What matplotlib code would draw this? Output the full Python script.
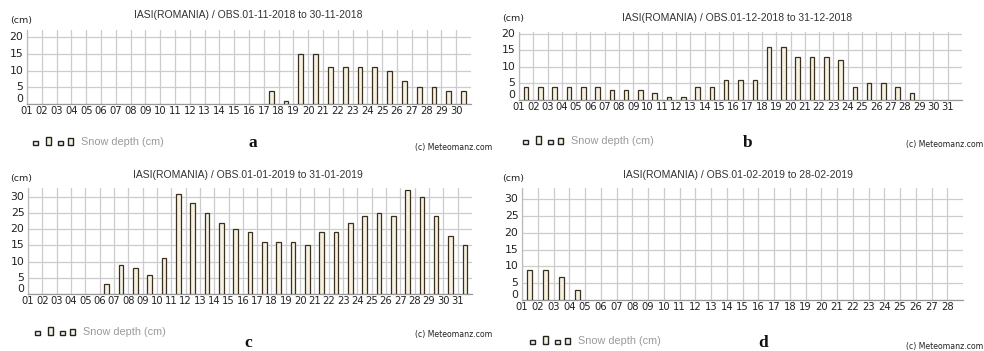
import matplotlib
matplotlib.use("Agg")
import matplotlib.pyplot as plt
from matplotlib.patches import Rectangle
import numpy as np

# ---------------- data ----------------
titles = [
    "IASI(ROMANIA) / OBS.01-11-2018 to 30-11-2018",
    "IASI(ROMANIA) / OBS.01-12-2018 to 31-12-2018",
    "IASI(ROMANIA) / OBS.01-01-2019 to 31-01-2019",
    "IASI(ROMANIA) / OBS.01-02-2019 to 28-02-2019",
]
panel_letters = ["a", "b", "c", "d"]
snow_nov_2018 = [0, 0, 0, 0, 0, 0, 0, 0, 0, 0, 0, 0, 0, 0, 0, 0,
                 4, 1, 15, 15, 11, 11, 11, 11, 10, 7, 5, 5, 4, 4]
snow_dec_2018 = [4, 4, 4, 4, 4, 4, 3, 3, 3, 2, 1, 1, 4, 4, 6, 6, 6,
                 16, 16, 13, 13, 13, 12, 4, 5, 5, 4, 2, 0, 0, 0]
snow_jan_2019 = [0, 0, 0, 0, 0, 3, 9, 8, 6, 11, 31, 28, 25, 22, 20, 19,
                 16, 16, 16, 15, 19, 19, 22, 24, 25, 24, 32, 30, 24, 18, 15]
snow_feb_2019 = [9, 9, 7, 3, 0, 0, 0, 0, 0, 0, 0, 0, 0, 0, 0, 0, 0, 0,
                 0, 0, 0, 0, 0, 0, 0, 0, 0, 0]
series = [snow_nov_2018, snow_dec_2018, snow_jan_2019, snow_feb_2019]
y_ticks = [[0, 5, 10, 15, 20], [0, 5, 10, 15, 20],
           [0, 5, 10, 15, 20, 25, 30], [0, 5, 10, 15, 20, 25, 30]]
y_tops = [22.2, 20.6, 32.7, 33.4]
legend_label = "Snow depth (cm)"
credit = "(c) Meteomanz.com"
unit_label = "(cm)"

# ---------------- layout (pixels) ----------------
W, H = 984, 351
fig = plt.figure(figsize=(W / 100, H / 100), dpi=100)
fig.patch.set_facecolor("white")

def fx(x):
    return x / W

def fy(y):
    return 1 - y / H

# left, right, top, bottom of each plot area
boxes = [(27, 471, 30, 104), (519, 962, 32, 100),
         (28, 472, 188, 294), (522, 963, 188, 300)]
title_pos = [(248, 15), (737, 18), (248, 175), (738, 175)]
cm_pos = [(21, 21), (513, 19), (21, 178), (513, 178)]
legend_y = [143, 142, 333, 342]
legend_x = [33, 523, 35, 530]
letter_pos = [(253, 143), (748, 143), (248, 343), (763, 343)]
credit_pos = [(415, 147, "left"), (983, 144, "right"),
              (415, 334, "left"), (983, 346, "right")]

NARROW = ["Liberation Sans Narrow", "DejaVu Sans"]
SANS = ["Liberation Sans", "DejaVu Sans"]
TXT = "#222222"
GRID = "#cccccc"
BAR_FACE = "#f6f1e1"
BAR_EDGE = "#3b2f1e"

for i in range(4):
    l, r, t, b = boxes[i]
    ax = fig.add_axes([fx(l), fy(b), (r - l) / W, (b - t) / H])
    vals = np.array(series[i], dtype=float)
    n = len(vals)
    x = np.arange(n) + 0.5
    mask = vals > 0
    ax.bar(x[mask], vals[mask], width=0.32, color=BAR_FACE,
           edgecolor=BAR_EDGE, linewidth=0.9, zorder=3)
    ax.set_xlim(0, n)
    ax.set_ylim(0, y_tops[i])
    ax.set_xticks(np.arange(n))
    ax.set_xticklabels([f"{d:02d}" for d in range(1, n + 1)],
                       fontsize=7.2, color=TXT, family=NARROW)
    ax.tick_params(axis="x", length=0, pad=1.5)
    ax.set_yticks(y_ticks[i])
    ax.set_yticklabels([])
    ax.tick_params(axis="y", length=0)
    for yv in y_ticks[i]:
        ax.text(-0.008, yv, str(yv), transform=ax.get_yaxis_transform(),
                ha="right", va="bottom" if yv == 0 else "center",
                fontsize=7.8, color=TXT, family=NARROW)
    ax.grid(True, color=GRID, linewidth=0.9, zorder=0)
    ax.set_axisbelow(True)
    for s in ["top", "right"]:
        ax.spines[s].set_visible(False)
    ax.spines["left"].set_color("#bbbbbb")
    ax.spines["left"].set_linewidth(0.9)
    ax.spines["bottom"].set_color("#999999")
    ax.spines["bottom"].set_linewidth(0.9)
    ax.set_facecolor("white")

    # texts around the panel
    fig.text(fx(title_pos[i][0]), fy(title_pos[i][1]), titles[i],
             ha="center", va="center", fontsize=7.5, color="#333333",
             family=SANS)
    fig.text(fx(cm_pos[i][0]), fy(cm_pos[i][1]), unit_label,
             ha="center", va="center", fontsize=6.8, color=TXT, family=NARROW)
    # legend icons
    lx, ly = legend_x[i], legend_y[i]
    icons = [(0, 4.5, 4.5), (13, 5, 8), (25, 4.5, 4.5), (35, 5, 6.5)]
    for dx, w, h in icons:
        fig.patches.append(Rectangle((fx(lx + dx), fy(ly + 2)), w / W, h / H,
                                     transform=fig.transFigure,
                                     facecolor=BAR_FACE, edgecolor="#222222",
                                     linewidth=1.0))
    fig.text(fx(lx + 48), fy(ly - 1), legend_label, ha="left", va="center",
             fontsize=7.8, color="#9a9a9a", family=SANS)
    fig.text(fx(letter_pos[i][0]), fy(letter_pos[i][1]), panel_letters[i],
             ha="center", va="center", fontsize=12.5, fontweight="bold",
             color="#111111", family="Liberation Serif")
    cx, cy, cha = credit_pos[i]
    fig.text(fx(cx), fy(cy), credit, ha=cha, va="center",
             fontsize=5.6, color=TXT, family=NARROW)

fig.savefig("out.png", dpi=100, facecolor="white")
